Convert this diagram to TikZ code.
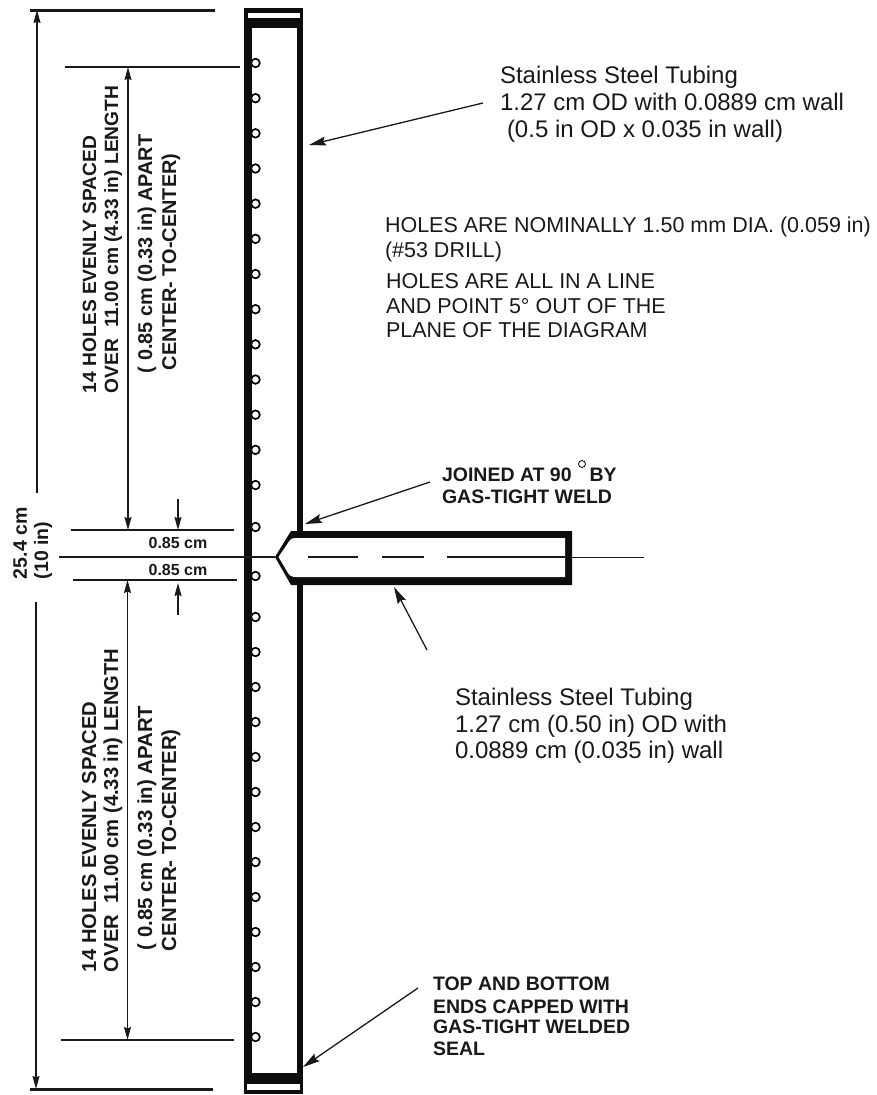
\documentclass[tikz,border=0pt]{standalone}
\usepackage{fontspec}
\setmainfont{Liberation Sans}
\usetikzlibrary{arrows.meta}
\newcommand{\fs}[1]{\fontsize{#1}{#1}\selectfont}
\tikzset{
  x=1pt,y=-1pt,
  thinline/.style={line width=1.2pt,black!90},
  boundline/.style={line width=3pt,black!90},
  dimarrow/.style={line width=1.2pt,black!90,-{Stealth[length=13pt,width=7pt,inset=1.5pt]}},
  leader/.style={line width=1.3pt,black!90,-{Stealth[length=17pt,width=9pt,inset=2.5pt]}},
  txt/.style={anchor=base west,inner sep=0pt,outer sep=0pt,text=black!90},
  plain/.style={txt,font=\fs{24}},
  caps/.style={txt,font=\fs{21.5}},
  bold/.style={txt,font=\bfseries\fs{19.5}},
  vbold/.style={txt,rotate=90,font=\bfseries\fs{#1}},
  small/.style={anchor=base,inner sep=0pt,outer sep=0pt,text=black!90,font=\bfseries\fs{16}},
  hole/.style={line width=1.7pt,black,fill=white},
  steel/.style={fill=black!95,draw=none},
}
\begin{document}
\begin{tikzpicture}
\useasboundingbox (0,0) rectangle (877,1095);
% holes
\foreach \i in {0,...,12} \draw[hole] (255.5,63+35.17*\i) circle (4.3);
\draw[hole] (255.5,527) circle (4.3);
\draw[hole] (255.5,576) circle (4.3);
\foreach \i in {0,...,12} \draw[hole] (255.5,617+35*\i) circle (4.3);
% main tube
\fill[steel] (244,8) rectangle (252,1094);
\fill[steel] (297,8) rectangle (303,1094);
\fill[steel] (244,8) rectangle (303,28);
\fill[steel] (244,1073) rectangle (303,1094);
\fill[white] (248,13) rectangle (300,18);
\fill[white] (247,1084) rectangle (300,1090);
% side tube
\fill[steel] (275,557) -- (291,531) -- (572,531) -- (572,585) -- (291,585) -- cycle;
\fill[white] (278.5,557) -- (290,540) .. controls (291,538.5) and (293,538) .. (296,538) -- (565,538) -- (565,577) -- (296,577) .. controls (292,577) and (290,576) .. (288,573) -- cycle;
% centre line
\coordinate (clA) at (59,557);
\coordinate (clB) at (275,557);
\coordinate (clC) at (572,557.5);
\coordinate (clD) at (644,557.5);
\draw[thinline] (clA) -- (clB);
\draw[thinline] (clC) -- (clD);
\draw[thinline] (308,557) -- (358,557);
\draw[thinline] (382,557) -- (424,557);
\draw[thinline] (447,557) -- (565,557);
% extension lines
\coordinate (tA) at (30,10); \coordinate (tB) at (215,10);
\coordinate (bA) at (30,1089); \coordinate (bB) at (213,1089);
\coordinate (hA) at (65,67); \coordinate (hB) at (240,67);
\coordinate (iA) at (71,530); \coordinate (iB) at (234,530);
\coordinate (jA) at (73,580); \coordinate (jB) at (237,580);
\coordinate (kA) at (61,1040); \coordinate (kB) at (234,1040);
\draw[boundline] (tA) -- (tB);
\draw[boundline] (bA) -- (bB);
\draw[thinline] (hA) -- (hB);
\draw[thinline] (iA) -- (iB);
\draw[thinline] (jA) -- (jB);
\draw[thinline] (kA) -- (kB);
% dimension arrows
\coordinate (d1) at (37,493); \coordinate (d1t) at (37,10);
\coordinate (d2) at (36,602); \coordinate (d2t) at (36,1089);
\draw[dimarrow] (d1) -- (d1t);
\draw[dimarrow] (d2) -- (d2t);
\coordinate (u1) at (128,300); \coordinate (u1t) at (128,67); \coordinate (u1b) at (128,530);
\draw[dimarrow] (u1) -- (u1t);
\draw[dimarrow] (u1) -- (u1b);
\coordinate (l1) at (127.5,800); \coordinate (l1t) at (127.5,580); \coordinate (l1b) at (127.5,1040);
\draw[dimarrow] (l1) -- (l1t);
\draw[dimarrow] (l1) -- (l1b);
\coordinate (s1) at (178,499); \coordinate (s1t) at (178,530);
\coordinate (s2) at (178,615); \coordinate (s2t) at (178,583);
\draw[dimarrow] (s1) -- (s1t);
\draw[dimarrow] (s2) -- (s2t);
% leaders
\coordinate (a1) at (483,103); \coordinate (a1t) at (309,145);
\coordinate (a2) at (430,482); \coordinate (a2t) at (305,524);
\coordinate (a3) at (427,650); \coordinate (a3t) at (394,587);
\coordinate (a4) at (418,988); \coordinate (a4t) at (303,1067);
\draw[leader] (a1) -- (a1t);
\draw[leader] (a2) -- (a2t);
\draw[leader] (a3) -- (a3t);
\draw[leader] (a4) -- (a4t);
% texts
\node[vbold=19.5] (t25) at (27,579) {25.4 cm};
\node[vbold=19.5] (t10) at (48,579) {(10 in)};
\node[small] (n1) at (178,548) {0.85 cm};
\node[small] (n2) at (178,575) {0.85 cm};
\node[vbold=19.2] (u14) at (96,393) {14 HOLES EVENLY SPACED};
\node[vbold=19.2] (uov) at (118,393) {OVER\ \ 11.00 cm (4.33 in) LENGTH};
\node[vbold=19.9] (uap) at (152,373) {( 0.85 cm (0.33 in) APART};
\node[vbold=19.9] (uct) at (176,370) {CENTER- TO-CENTER)};
\node[vbold=20.2] (l14) at (96,972) {14 HOLES EVENLY SPACED};
\node[vbold=20.2] (lov) at (118,972) {OVER\ \ 11.00 cm (4.33 in) LENGTH};
\node[vbold=20.4] (lap) at (152,950) {( 0.85 cm (0.33 in) APART};
\node[vbold=20.4] (lct) at (176,951) {CENTER- TO-CENTER)};
\node[plain] (p1) at (500,83) {Stainless Steel Tubing};
\node[plain] (p2) at (500,110) {1.27 cm OD with 0.0889 cm wall};
\node[plain] (p3) at (507,137) {(0.5 in OD x 0.035 in wall)};
\node[caps] (c1) at (385,232) {HOLES ARE NOMINALLY 1.50 mm DIA. (0.059 in)};
\node[caps] (c2) at (385,257) {(\#53 DRILL)};
\node[caps] (c3) at (386,288) {HOLES ARE ALL IN A LINE};
\node[caps] (c4) at (386,313) {AND POINT 5° OUT OF THE};
\node[caps] (c5) at (386,337) {PLANE OF THE DIAGRAM};
\node[bold] (j1) at (442,481) {JOINED AT 90\hspace{18pt}BY};
\node[draw,circle,line width=.8pt,minimum size=7pt,inner sep=0pt] (deg) at (582,464) {};
\node[bold] (j2) at (442,503) {GAS-TIGHT WELD};
\node[plain] (q1) at (455,705) {Stainless Steel Tubing};
\node[plain] (q2) at (455,732) {1.27 cm (0.50 in) OD with};
\node[plain] (q3) at (455,758) {0.0889 cm (0.035 in) wall};
\node[bold] (e1) at (433,990) {TOP AND BOTTOM};
\node[bold] (e2) at (433,1013) {ENDS CAPPED WITH};
\node[bold] (e3) at (433,1033) {GAS-TIGHT WELDED};
\node[bold] (e4) at (433,1055) {SEAL};
\end{tikzpicture}
\end{document}
